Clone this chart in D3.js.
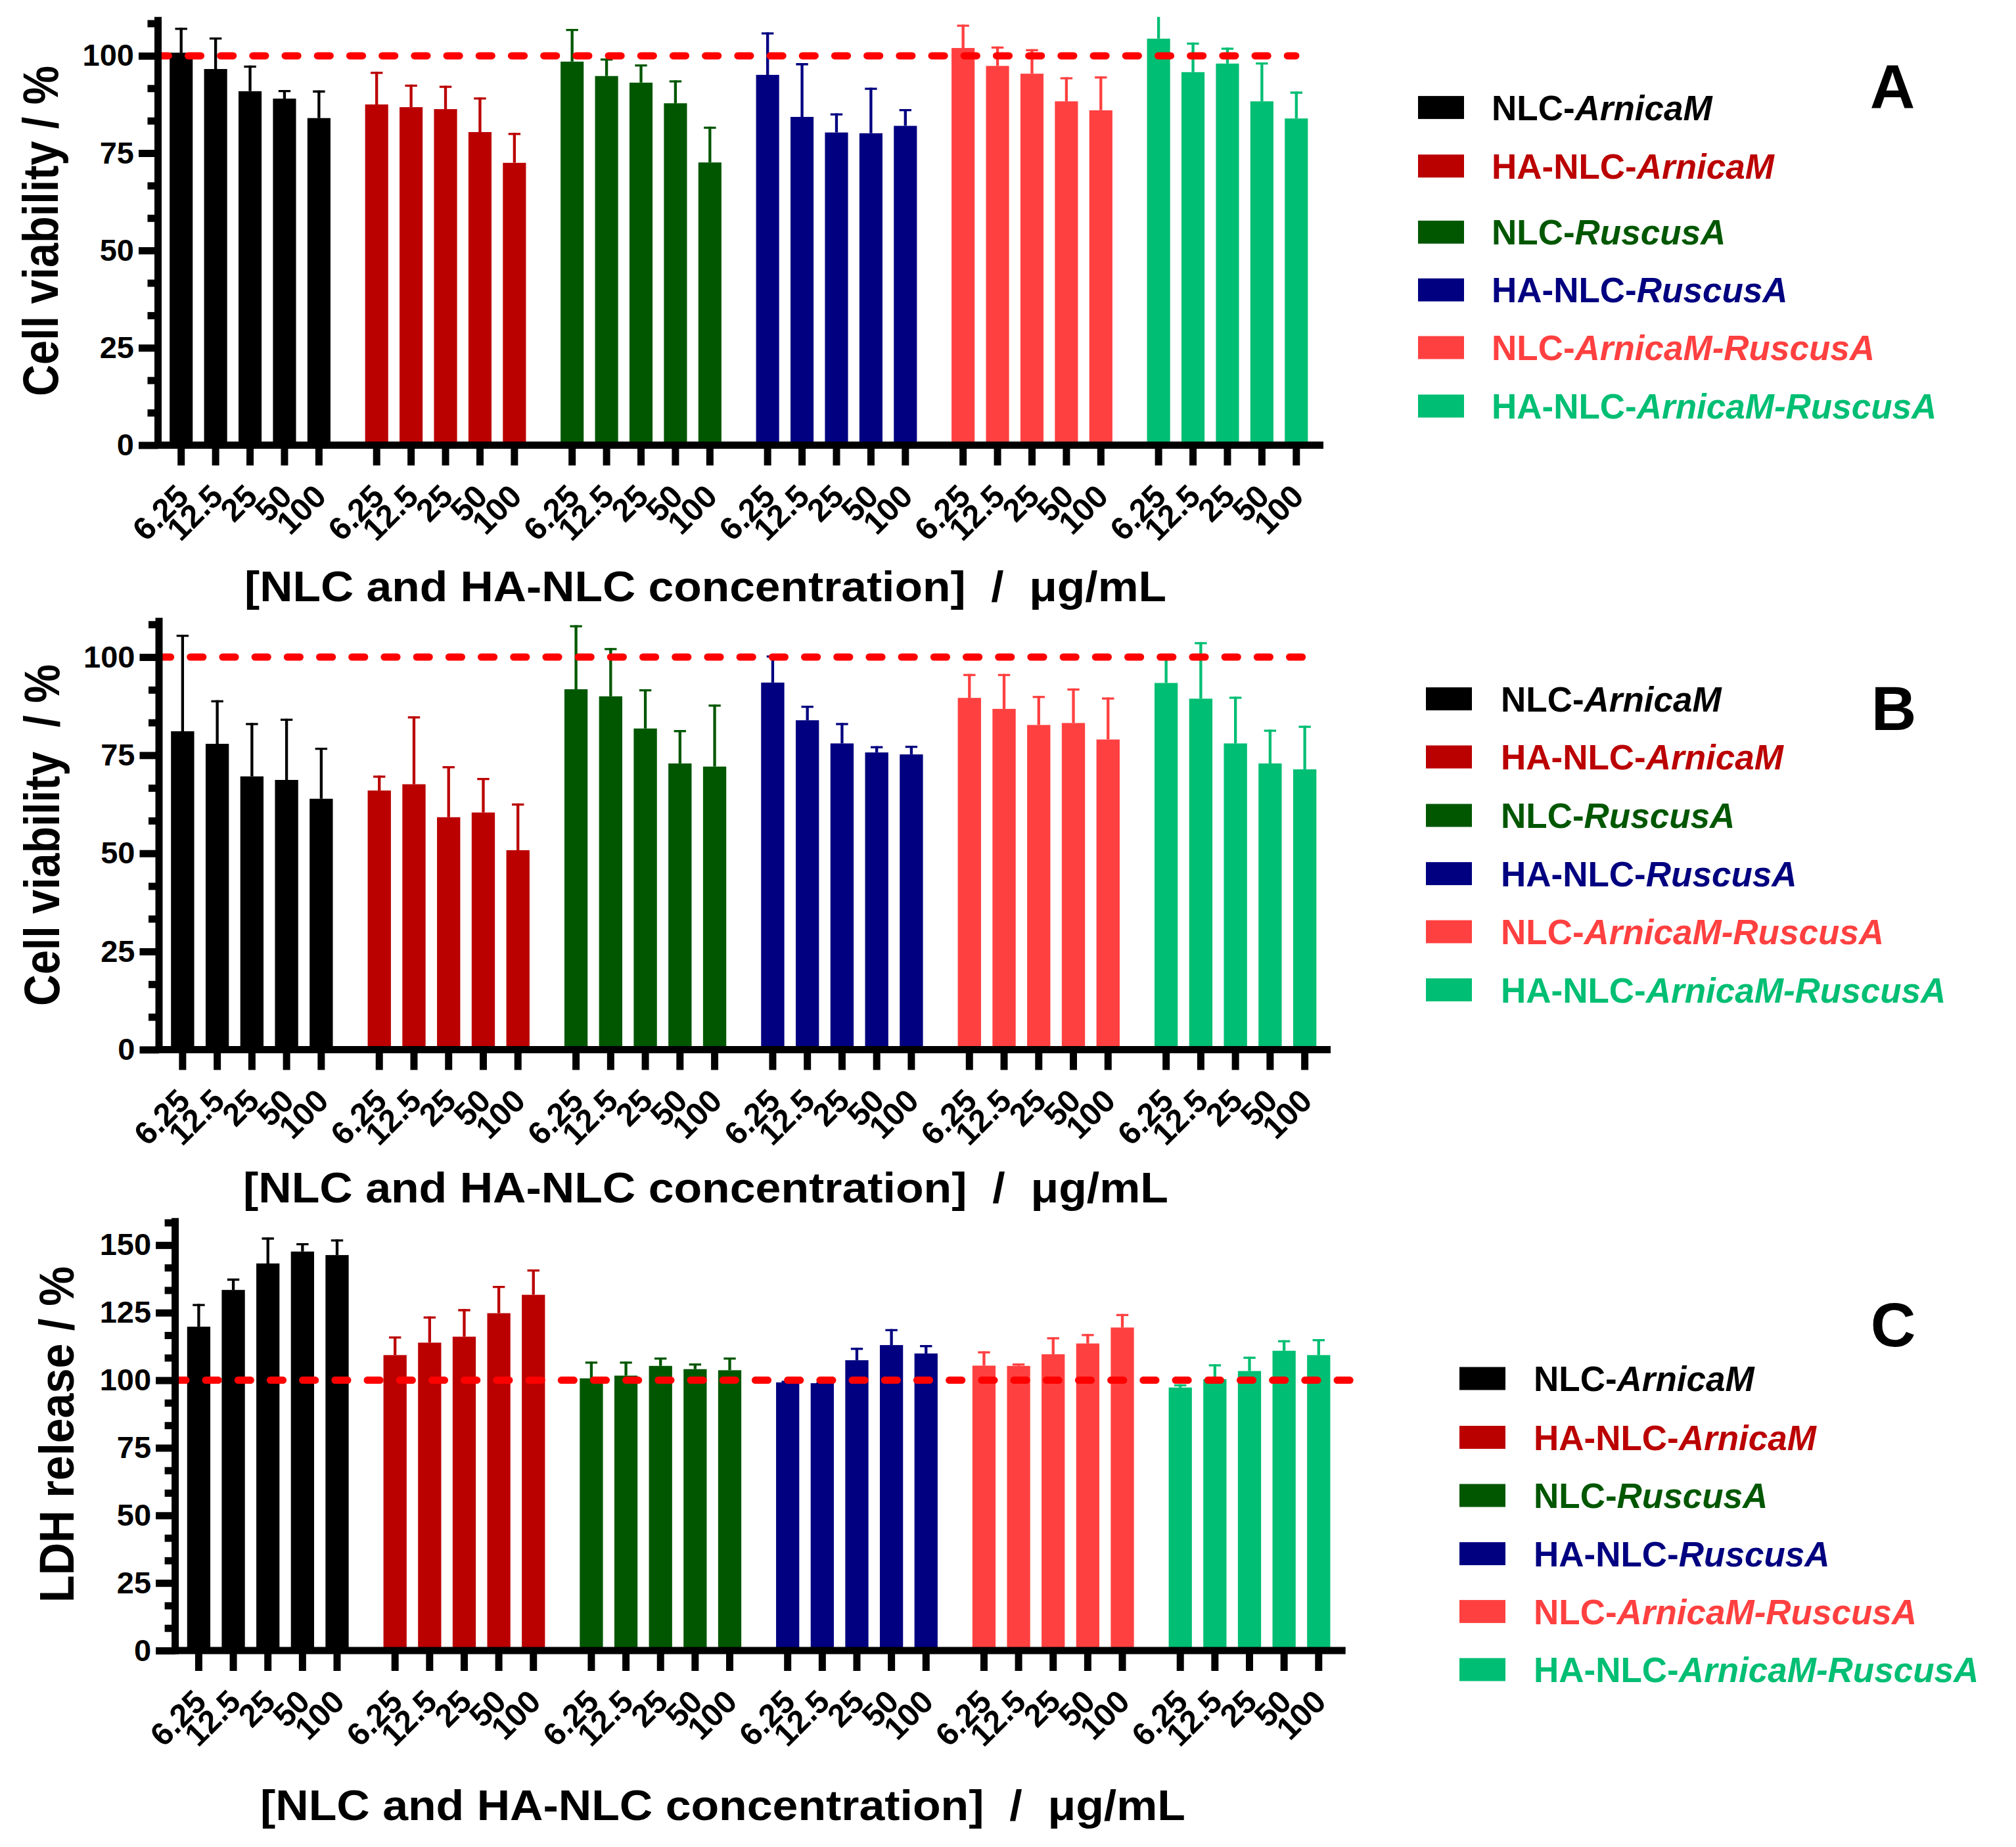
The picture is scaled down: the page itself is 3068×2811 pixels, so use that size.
<!DOCTYPE html>
<html>
<head>
<meta charset="utf-8">
<script src="https://cdn.jsdelivr.net/npm/d3@7"></script>
<style>
  body { margin: 0; background: #fff; }
  text { font-family: "Liberation Sans", Arial, sans-serif; font-weight: bold; }
</style>
</head>
<body>
<div id="chart"></div>
<script>
// ---- data ----
const groups = ["NLC-ArnicaM", "HA-NLC-ArnicaM", "NLC-RuscusA", "HA-NLC-RuscusA", "NLC-ArnicaM-RuscusA", "HA-NLC-ArnicaM-RuscusA"];
const groupPrefix = ["NLC-", "HA-NLC-", "NLC-", "HA-NLC-", "NLC-", "HA-NLC-"];
const groupItalic = ["ArnicaM", "ArnicaM", "RuscusA", "RuscusA", "ArnicaM-RuscusA", "ArnicaM-RuscusA"];
const concentrations = ["6.25", "12.5", "25", "50", "100"];
const colors = ["#000000", "#bb0000", "#005700", "#000080", "#ff4040", "#00be73"];

// A: cell viability (mean, sd)
const viabilityA = [
  [100.8, 96.6, 90.9, 89.0, 84.0],
  [87.5, 86.8, 86.3, 80.4, 72.5],
  [98.5, 94.8, 93.1, 87.8, 72.6],
  [95.1, 84.3, 80.3, 80.1, 82.0],
  [102.0, 97.4, 95.4, 88.3, 86.0],
  [104.4, 95.8, 98.0, 88.3, 83.9]
];
const viabilityA_sd = [
  [6.4, 8.1, 6.6, 2.2, 7.1],
  [8.4, 5.8, 6.0, 8.9, 7.7],
  [8.4, 4.5, 4.7, 5.9, 9.2],
  [10.9, 13.8, 4.9, 11.7, 4.3],
  [6.0, 5.0, 6.3, 6.2, 8.7],
  [7.0, 7.6, 4.1, 10.0, 6.9]
];

// B: cell viability (mean, sd)
const viabilityB = [
  [81.1, 77.9, 69.6, 68.7, 63.9],
  [66.0, 67.6, 59.2, 60.4, 50.8],
  [91.8, 90.0, 81.8, 72.9, 72.1],
  [93.5, 83.9, 78.0, 75.7, 75.2],
  [89.6, 86.8, 82.7, 83.2, 79.0],
  [93.4, 89.4, 78.0, 72.9, 71.4]
];
const viabilityB_sd = [
  [24.6, 11.1, 13.6, 15.6, 13.0],
  [3.8, 17.3, 13.0, 8.8, 11.9],
  [16.3, 12.3, 10.0, 8.5, 15.8],
  [6.9, 3.7, 5.2, 1.6, 2.2],
  [6.1, 8.9, 7.4, 8.8, 10.7],
  [7.3, 14.4, 11.9, 8.6, 11.1]
];

// C: LDH release (mean, sd)
const ldhC = [
  [119.8, 133.4, 143.2, 147.6, 146.3],
  [109.3, 113.9, 116.1, 124.8, 131.6],
  [100.7, 101.7, 105.3, 104.1, 103.7],
  [99.2, 98.9, 107.4, 113.0, 109.9],
  [105.4, 105.3, 109.6, 113.6, 119.5],
  [97.3, 100.4, 103.4, 110.9, 109.3]
];
const ldhC_sd = [
  [8.4, 4.2, 9.6, 3.1, 5.8],
  [6.9, 9.7, 10.2, 10.1, 9.4],
  [6.2, 5.2, 3.1, 2.1, 4.7],
  [0.6, 0.3, 4.6, 5.9, 3.1],
  [5.3, 0.9, 6.3, 3.5, 5.0],
  [1.2, 5.5, 5.3, 3.9, 5.9]
];

const xTitle = "[NLC and HA-NLC concentration]  /  \u03bcg/mL";

// ---- layout ----
const W = 3068, H = 2811;
const panels = [
  { id: "A", mean: viabilityA, sd: viabilityA_sd, yMax: 110, axisX: 240.5, y0: 677.4, ppu: 5.925,
    xStart: 249.5, xEnd: 1999, xAxisEnd: 2014, dashStart: 231.7, dashEnd: 1977.5,
    xt: { x: 1073.5, y: 915, len: 1403 },
    yt: { x: 88, y: 351.5, len: 503, size: 76, text: "Cell viability / %" },
    leg: { x: 2158, tx: 2270, rows: [163.6, 252.7, 353.3, 441.2, 529, 618] },
    letter: { x: 2880, y: 165 } },
  { id: "B", mean: viabilityB, sd: viabilityB_sd, yMax: 110, axisX: 242, y0: 1597.4, ppu: 5.974,
    xStart: 251.5, xEnd: 2012, xAxisEnd: 2025, dashStart: 235, dashEnd: 1989,
    xt: { x: 1074, y: 1830, len: 1408 },
    yt: { x: 90, y: 1271, len: 520, size: 76, text: "Cell viability  / %" },
    leg: { x: 2170, tx: 2284, rows: [1063.6, 1152, 1241, 1329.6, 1418, 1506.5] },
    letter: { x: 2882, y: 1111 } },
  { id: "C", mean: ldhC, sd: ldhC_sd, yMax: 160, axisX: 266.6, y0: 2512, ppu: 4.114,
    xStart: 276.1, xEnd: 2033.1, xAxisEnd: 2047.7, dashStart: 258.3, dashEnd: 2060,
    xt: { x: 1100, y: 2770, len: 1408 },
    yt: { x: 112, y: 2183, len: 512, size: 74, text: "LDH release / %" },
    leg: { x: 2221, tx: 2334, rows: [2098, 2187.5, 2276, 2364.6, 2452.6, 2541] },
    letter: { x: 2881, y: 2049 } }
];

const LW = 11; // axis line width

const svg = d3.select("#chart").append("svg")
  .attr("width", W).attr("height", H)
  .attr("viewBox", `0 0 ${W} ${H}`);

svg.append("rect").attr("width", W).attr("height", H).attr("fill", "#fff");

panels.forEach(drawPanel);

function drawPanel(p) {
  const g = svg.append("g").attr("class", "panel-" + p.id);

  const y = d3.scaleLinear().domain([0, p.yMax]).range([p.y0, p.y0 - p.yMax * p.ppu]);
  const xGroup = d3.scaleBand().domain(groups).range([p.xStart, p.xEnd])
    .paddingInner(0.119).paddingOuter(0);
  const xConc = d3.scaleBand().domain(concentrations).range([0, xGroup.bandwidth()])
    .paddingInner(0.33).paddingOuter(0.165);

  // clip for marks that run past the top of the axis
  const clipId = "clip-" + p.id;
  g.append("clipPath").attr("id", clipId)
    .append("rect")
    .attr("x", 0).attr("y", y(p.yMax))
    .attr("width", W).attr("height", p.y0 - y(p.yMax) + 20);

  const marks = g.append("g").attr("clip-path", `url(#${clipId})`);

  groups.forEach((grp, gi) => {
    const gg = marks.append("g").attr("transform", `translate(${xGroup(grp)},0)`);
    const rows = concentrations.map((c, ci) => ({ c, v: p.mean[gi][ci], e: p.sd[gi][ci] }));

    // error bars (upper only)
    gg.selectAll(".stem").data(rows).join("line")
      .attr("class", "stem")
      .attr("x1", d => xConc(d.c) + xConc.bandwidth() / 2)
      .attr("x2", d => xConc(d.c) + xConc.bandwidth() / 2)
      .attr("y1", d => y(d.v))
      .attr("y2", d => y(d.v + d.e))
      .attr("stroke", colors[gi]).attr("stroke-width", 4.3);
    gg.selectAll(".cap").data(rows).join("line")
      .attr("class", "cap")
      .attr("x1", d => xConc(d.c) + xConc.bandwidth() / 2 - 9.2)
      .attr("x2", d => xConc(d.c) + xConc.bandwidth() / 2 + 9.2)
      .attr("y1", d => y(d.v + d.e) + 1.6)
      .attr("y2", d => y(d.v + d.e) + 1.6)
      .attr("stroke", colors[gi]).attr("stroke-width", 3.3);

    gg.selectAll(".bar").data(rows).join("rect")
      .attr("class", "bar")
      .attr("x", d => xConc(d.c))
      .attr("y", d => y(d.v))
      .attr("width", xConc.bandwidth())
      .attr("height", d => y(0) - y(d.v))
      .attr("fill", colors[gi]);
  });

  // reference line at 100 %
  g.append("line")
    .attr("x1", p.dashStart + LW / 2).attr("x2", p.dashEnd - LW / 2)
    .attr("y1", y(100)).attr("y2", y(100))
    .attr("stroke", "#ff0000").attr("stroke-width", LW)
    .attr("stroke-linecap", "round")
    .attr("stroke-dasharray", "19.2 30");

  // y axis: major and minor ticks
  const major = d3.range(0, p.yMax + 1, 25);
  const minor = d3.range(0, Math.floor(p.yMax * 3 / 25) + 1)
    .filter(i => i % 3 !== 0).map(i => i * 25 / 3);

  const yMajor = g.append("g").attr("transform", `translate(${p.axisX},0)`)
    .call(d3.axisLeft(y).tickValues(major).tickSize(29.5).tickPadding(7).tickFormat(d3.format("d")));
  const yMinor = g.append("g").attr("transform", `translate(${p.axisX},0)`)
    .call(d3.axisLeft(y).tickValues(minor).tickSize(16).tickFormat(""));
  [yMajor, yMinor].forEach(ax => {
    ax.select(".domain").remove();
    ax.selectAll(".tick line").attr("stroke", "#000").attr("stroke-width", LW);
  });
  yMajor.selectAll(".tick text")
    .attr("fill", "#000").attr("font-size", 47)
    .attr("font-family", "Liberation Sans, Arial, sans-serif").attr("font-weight", "bold");

  g.append("line")
    .attr("x1", p.axisX).attr("x2", p.axisX)
    .attr("y1", y(p.yMax)).attr("y2", p.y0 + LW / 2)
    .attr("stroke", "#000").attr("stroke-width", LW);

  // x axis, one block of ticks per formulation
  groups.forEach(grp => {
    const ax = g.append("g").attr("transform", `translate(${xGroup(grp)},${p.y0})`)
      .call(d3.axisBottom(xConc).tickSize(31).tickSizeOuter(0));
    ax.select(".domain").remove();
    ax.selectAll(".tick line").attr("stroke", "#000").attr("stroke-width", LW);
    ax.selectAll(".tick text")
      .attr("x", 0).attr("y", 0).attr("dy", 0)
      .attr("text-anchor", "end")
      .attr("transform", "translate(14,81) rotate(-45)")
      .attr("fill", "#000").attr("font-size", 49)
      .attr("font-family", "Liberation Sans, Arial, sans-serif").attr("font-weight", "bold");
  });

  g.append("line")
    .attr("x1", p.axisX - LW / 2).attr("x2", p.xAxisEnd)
    .attr("y1", p.y0).attr("y2", p.y0)
    .attr("stroke", "#000").attr("stroke-width", LW);

  // axis titles
  g.append("text")
    .attr("x", p.xt.x).attr("y", p.xt.y)
    .attr("text-anchor", "middle")
    .attr("font-size", 65)
    .attr("textLength", p.xt.len).attr("lengthAdjust", "spacingAndGlyphs")
    .style("white-space", "pre")
    .text(xTitle);

  g.append("text")
    .attr("transform", `translate(${p.yt.x},${p.yt.y}) rotate(-90)`)
    .attr("text-anchor", "middle")
    .attr("font-size", p.yt.size)
    .attr("textLength", p.yt.len).attr("lengthAdjust", "spacingAndGlyphs")
    .style("white-space", "pre")
    .text(p.yt.text);

  // legend
  const leg = g.append("g");
  groups.forEach((grp, gi) => {
    const ry = p.leg.rows[gi];
    leg.append("rect")
      .attr("x", p.leg.x).attr("y", ry - 17.5)
      .attr("width", 70).attr("height", 35)
      .attr("fill", colors[gi]);
    const t = leg.append("text")
      .attr("x", p.leg.tx).attr("y", ry + 19)
      .attr("font-size", 53)
      .attr("fill", colors[gi]);
    t.append("tspan").text(groupPrefix[gi]);
    t.append("tspan").attr("font-style", "italic").text(groupItalic[gi]);
  });

  // panel letter
  g.append("text")
    .attr("x", p.letter.x).attr("y", p.letter.y)
    .attr("text-anchor", "middle")
    .attr("font-size", 95)
    .text(p.id);
}
</script>
</body>
</html>
